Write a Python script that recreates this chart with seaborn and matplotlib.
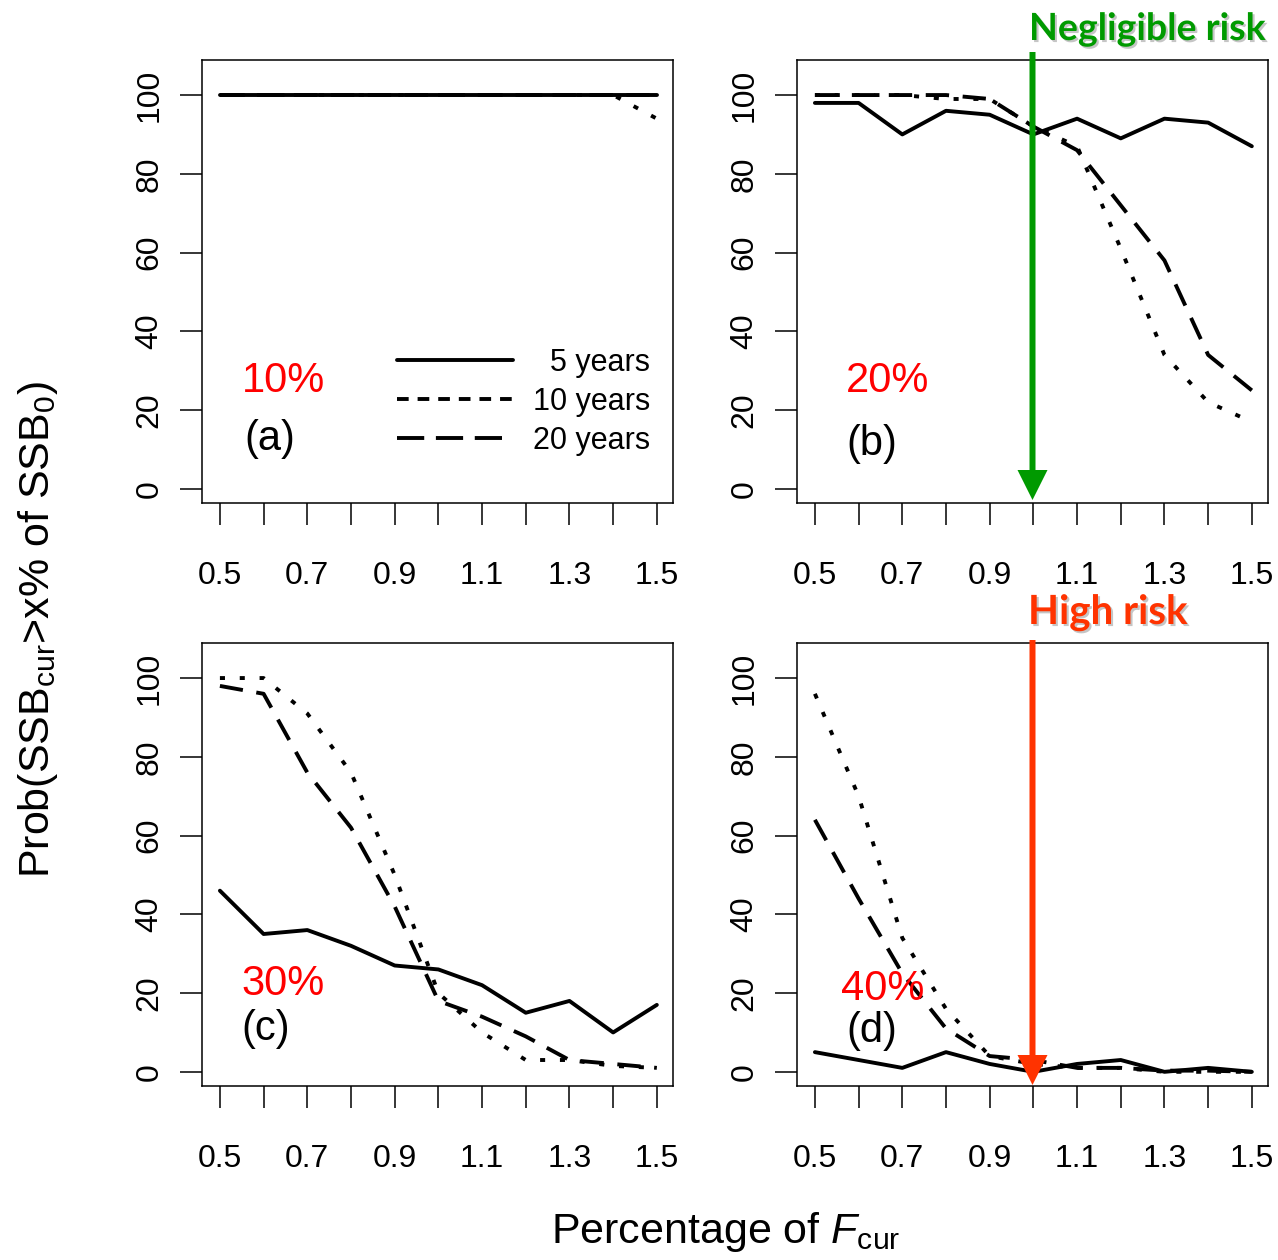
import numpy as np
import pandas as pd
import matplotlib
matplotlib.use("Agg")
import matplotlib.pyplot as plt
import matplotlib.patheffects as pe
from matplotlib.lines import Line2D
from matplotlib.patches import FancyArrowPatch
import seaborn as sns

# multiples of current F
f_mult = [0.5, 0.6, 0.7, 0.8, 0.9, 1.0, 1.1, 1.2, 1.3, 1.4, 1.5]
x_labels = ["0.5", "", "0.7", "", "0.9", "", "1.1", "", "1.3", "", "1.5"]
horizons = ["5 years", "10 years", "20 years"]

# panel (a) 10% of SSB0
a_5 = [100, 100, 100, 100, 100, 100, 100, 100, 100, 100, 100]
a_10 = [100, 100, 100, 100, 100, 100, 100, 100, 100, 100, 94]
a_20 = [100, 100, 100, 100, 100, 100, 100, 100, 100, 100, 100]
# panel (b) 20%
b_5 = [98, 98, 90, 96, 95, 90, 94, 89, 94, 93, 87]
b_10 = [100, 100, 100, 99, 99, 92, 87, 61, 34, 22, 17]
b_20 = [100, 100, 100, 100, 99, 92, 86, 72, 58, 34, 25]
# panel (c) 30%
c_5 = [46, 35, 36, 32, 27, 26, 22, 15, 18, 10, 17]
c_10 = [100, 100, 91, 76, 50, 20, 10, 3, 3, 1.5, 1]
c_20 = [98, 96, 76, 62, 42, 18, 14, 9, 3, 2, 1]
# panel (d) 40%
d_5 = [5, 3, 1, 5, 2, 0, 2, 3, 0, 1, 0]
d_10 = [96, 70, 34, 16, 4, 2, 1, 1, 0, 0, 0]
d_20 = [64, 44, 25, 11, 4, 3, 1, 1, 0.3, 0.3, 0]

panels = [
    ("10%", "(a)", a_5, a_10, a_20),
    ("20%", "(b)", b_5, b_10, b_20),
    ("30%", "(c)", c_5, c_10, c_20),
    ("40%", "(d)", d_5, d_10, d_20),
]

sns.set_theme(style="ticks")
plt.rcParams["font.family"] = ["Liberation Sans", "DejaVu Sans"]
plt.rcParams["mathtext.fontset"] = "custom"
plt.rcParams["mathtext.rm"] = "Liberation Sans"
plt.rcParams["mathtext.it"] = "Liberation Sans:italic"
plt.rcParams["text.color"] = "black"
plt.rcParams["axes.labelcolor"] = "black"
plt.rcParams["xtick.color"] = "black"
plt.rcParams["ytick.color"] = "black"

LW = 2.8
dash_map = {"5 years": "", "10 years": (1.3, 3.8), "20 years": (6, 3.5)}

fig = plt.figure(figsize=(12.78, 12.6), dpi=100)
W, H = 1278, 1260
boxes = [(202, 60), (797, 60), (202, 643), (797, 643)]
bw, bh = 471, 443

axes = []
for (pct, tag, s5, s10, s20), (bx, by) in zip(panels, boxes):
    ax = fig.add_axes([bx / W, 1 - (by + bh) / H, bw / W, bh / H])
    df = pd.DataFrame({
        "F": f_mult * 3,
        "prob": s5 + s10 + s20,
        "horizon": [h for h in horizons for _ in f_mult],
    })
    sns.lineplot(data=df, x="F", y="prob", style="horizon", dashes=dash_map,
                 color="black", linewidth=LW, legend=False, ax=ax)
    ax.set_xlim(0.459, 1.537)
    ax.set_ylim(-3.6, 108.9)
    ax.set_xticks(f_mult)
    ax.set_xticklabels(x_labels)
    ax.set_yticks([0, 20, 40, 60, 80, 100])
    ax.set_yticklabels(["0", "20", "40", "60", "80", "100"], rotation=90, va="center")
    ax.tick_params(axis="both", direction="out", length=16, width=1.1,
                   labelsize=23, colors="black")
    ax.tick_params(axis="x", pad=26)
    ax.tick_params(axis="y", pad=11)
    for sp in ax.spines.values():
        sp.set_linewidth(1.1)
        sp.set_color("black")
    ax.set_xlabel("")
    ax.set_ylabel("")
    axes.append(ax)

# panel texts
pct_pos = [(0.55, 27.5), (0.571, 27.5), (0.55, 22.4), (0.559, 21)]
tag_pos = [(0.555, 12.7), (0.571, 11.5), (0.55, 11), (0.571, 10.4)]
for ax, (pct, tag, *_), pp, tp in zip(axes, panels, pct_pos, tag_pos):
    ax.text(pp[0], pp[1], pct, color="red", fontsize=30, ha="left", va="center")
    ax.text(tp[0], tp[1], tag, color="black", fontsize=30, ha="left", va="center")

# legend in panel (a)
handles = [Line2D([], [], color="black", lw=LW),
           Line2D([], [], color="black", lw=LW, dashes=(3, 2.3)),
           Line2D([], [], color="black", lw=LW, dashes=(7, 3))]
axes[0].legend(handles, ["  5 years", "10 years", "20 years"], loc="center",
               bbox_to_anchor=(1.195, 22.1), bbox_transform=axes[0].transData,
               frameon=False, fontsize=22, handlelength=3.8, handletextpad=0.65,
               labelspacing=0.3, borderpad=0)

# shared axis labels
fig.text(38 / W, 1 - 629 / H, r"Prob(SSB$_{\mathrm{cur}}$>x% of SSB$_{\mathrm{0}}$)",
         rotation=90, ha="center", va="center", fontsize=31)
fig.text(726 / W, 1 - 1232 / H, r"Percentage of $F_{\mathrm{cur}}$",
         ha="center", va="center", fontsize=31)

# risk arrows
shadow = [pe.SimplePatchShadow(offset=(1.5, -1.5), shadow_rgbFace="gray", alpha=0.45),
          pe.Normal()]
green = "#009a00"
red = "#ff3300"
arrow_style = "simple,head_length=0.4,head_width=0.4,tail_width=0.08"
xa = 1032.5 / W
fig.add_artist(FancyArrowPatch((xa, 1 - 52 / H), (xa, 1 - 500 / H),
                               transform=fig.transFigure, arrowstyle=arrow_style,
                               mutation_scale=54, color=green, lw=0,
                               shrinkA=0, shrinkB=0))
fig.add_artist(FancyArrowPatch((xa, 1 - 640 / H), (xa, 1 - 1085 / H),
                               transform=fig.transFigure, arrowstyle=arrow_style,
                               mutation_scale=54, color=red, lw=0,
                               shrinkA=0, shrinkB=0))
fig.text(1029 / W, 1 - 40 / H, "Negligible risk", color=green, fontsize=27,
         fontweight="bold", family=["Lato", "DejaVu Sans"], ha="left",
         va="baseline", path_effects=shadow)
fig.text(1028 / W, 1 - 624 / H, "High risk", color=red, fontsize=29,
         fontweight="bold", family=["Lato", "DejaVu Sans"], ha="left",
         va="baseline", path_effects=shadow)

fig.savefig("out.png", dpi=100, facecolor="white")
